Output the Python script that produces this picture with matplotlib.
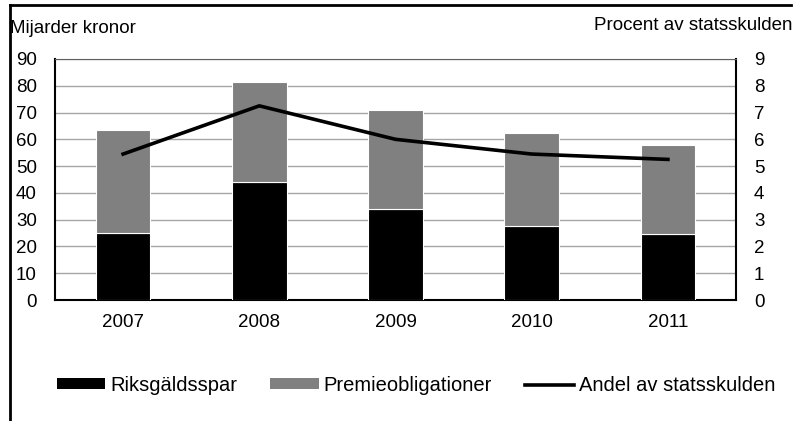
import numpy as np
import matplotlib
matplotlib.use("Agg")
import matplotlib.pyplot as plt
from matplotlib.lines import Line2D
from matplotlib.patches import Patch

plt.rcParams['font.family'] = ['Liberation Sans', 'DejaVu Sans']

years = ['2007', '2008', '2009', '2010', '2011']
riksgaldsspar = [25.0, 44.0, 34.0, 27.5, 24.5]
premieobligationer = [38.5, 37.5, 37.0, 35.0, 33.5]
andel = [5.45, 7.25, 6.0, 5.45, 5.25]

fig = plt.figure(figsize=(7.95, 4.21), dpi=100)
ax = fig.add_axes([0.0692, 0.2874, 0.8566, 0.5725])
x = np.arange(len(years))

ax.bar(x, riksgaldsspar, width=0.4, color='black', edgecolor='white',
       linewidth=0.8, zorder=3)
ax.bar(x, premieobligationer, width=0.4, bottom=riksgaldsspar,
       color='#808080', edgecolor='white', linewidth=0.8, zorder=3)

ax.set_xlim(-0.5, 4.5)
ax.set_ylim(0, 90)
ax.set_yticks(range(0, 91, 10))
ax.set_xticks(x)
ax.set_xticklabels(years)
ax.yaxis.grid(True, color='#a6a6a6', linewidth=1)
ax.set_axisbelow(True)
ax.tick_params(axis='both', length=0, labelsize=13.5)
ax.tick_params(axis='x', pad=10)
ax.tick_params(axis='y', pad=13)
ax.spines['top'].set_color('#606060')
ax.spines['left'].set_linewidth(1.5)
ax.spines['right'].set_linewidth(1.5)
ax.spines['bottom'].set_linewidth(1.5)

ax2 = ax.twinx()
ax2.plot(x, andel, color='black', linewidth=2.6, zorder=4)
ax2.set_ylim(0, 9)
ax2.set_yticks(range(0, 10))
ax2.tick_params(axis='y', length=0, labelsize=13.5, pad=13)
for s in ax2.spines.values():
    s.set_visible(False)

fig.text(0.013, 0.933, 'Mijarder kronor', fontsize=13.5, va='center', ha='left')
fig.text(0.997, 0.940, 'Procent av statsskulden', fontsize=13.5,
         va='center', ha='right')

handles = [Patch(facecolor='black'), Patch(facecolor='#808080'),
           Line2D([0], [0], color='black', linewidth=2.6)]
labels = ['Riksgäldsspar', 'Premieobligationer', 'Andel av statsskulden']
fig.legend(handles, labels, loc='center', bbox_to_anchor=(0.523, 0.085),
           ncol=3, frameon=False, fontsize=14.5, handlelength=2.4,
           handleheight=0.4, handletextpad=0.25, columnspacing=1.65,
           borderpad=0, borderaxespad=0)

# outer frame on the left and top edge
fig.add_artist(Line2D([0.013, 0.013], [0.0, 0.988], color='black',
                      linewidth=2, transform=fig.transFigure))
fig.add_artist(Line2D([0.013, 0.995], [0.988, 0.988], color='black',
                      linewidth=2, transform=fig.transFigure))

fig.savefig('out.png', dpi=100)
